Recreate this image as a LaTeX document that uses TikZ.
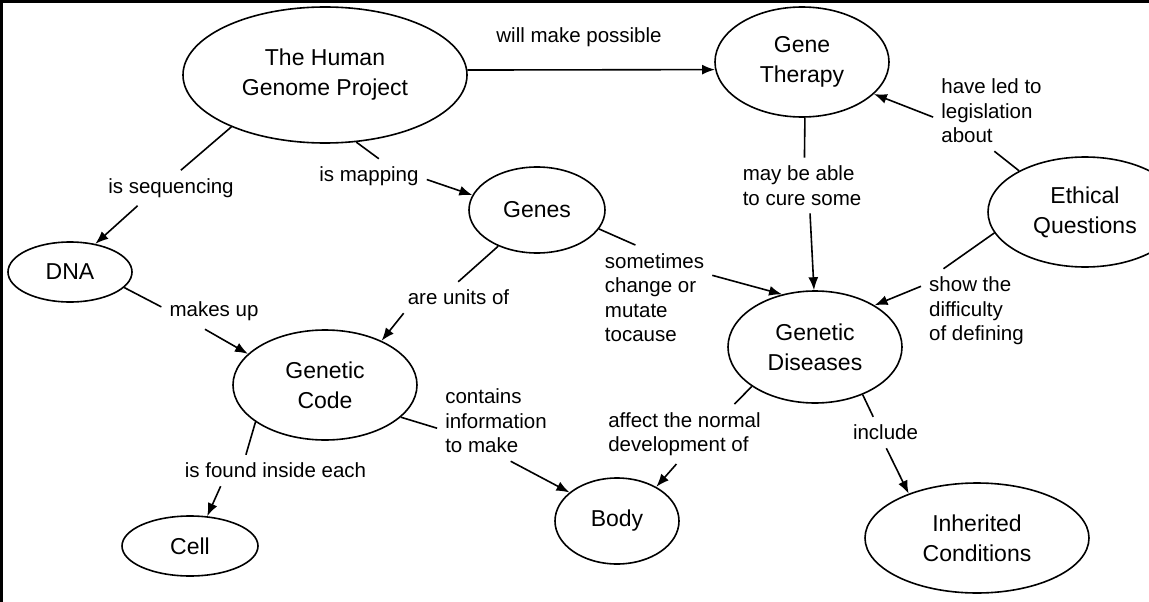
\documentclass[tikz,border=0pt]{standalone}
\usepackage{fontspec}
\setmainfont{Liberation Sans}
\usetikzlibrary{arrows.meta,shapes.geometric}

\begin{document}
\begin{tikzpicture}[x=1pt,y=-1pt,>={Latex[length=13pt,width=10pt]}]
	\tikzstyle{concept}=[draw, ellipse, line width=1.6pt, inner sep=0pt, align=center, font=\fontsize{23}{30}\selectfont]
	\tikzstyle{phrase}=[inner sep=8pt, align=left, font=\fontsize{20.5}{24.5}\selectfont]
	\tikzstyle{link}=[line width=1.6pt]

	\useasboundingbox (0,0) rectangle (1149,602);
	\draw [line width=3pt] (1.5,602) -- (1.5,1.5) -- (1149,1.5);

	% concepts
	\node (HGP) [concept, minimum width=284pt, minimum height=136pt] at (325,75) {The Human\\Genome Project};
	\node (GT) [concept, minimum width=174pt, minimum height=110pt] at (802,62) {Gene\\Therapy};
	\node (EQ) [concept, minimum width=194pt, minimum height=110pt] at (1085,212) {Ethical\\Questions};
	\node (DNA) [concept, minimum width=124pt, minimum height=60pt] at (70,272) {DNA};
	\node (Genes) [concept, minimum width=136pt, minimum height=86pt] at (537,210) {Genes};
	\node (GC) [concept, minimum width=184pt, minimum height=110pt] at (325,385) {Genetic\\Code};
	\node (GD) [concept, minimum width=174pt, minimum height=112pt] at (815,347) {Genetic\\Diseases};
	\node (Cell) [concept, minimum width=136pt, minimum height=60pt] at (190,546) {Cell};
	\node (Body) [concept, minimum width=124pt, minimum height=86pt] at (617,521) {Body};
	\node (IC) [concept, minimum width=224pt, minimum height=110pt] at (977,538) {Inherited\\Conditions};

	% linking phrases
	\node (possible) [phrase] at (579,37.5) {will make possible};
	\node (sequencing) [phrase] at (171,188) {is sequencing};
	\node (mapping) [phrase] at (369,176.5) {is mapping};
	\node (cure) [phrase] at (802,185.5) {may be able\\to cure some};
	\node (legislation) [phrase] at (991.5,111) {have led to\\legislation\\about};
	\node (difficulty) [phrase] at (976.5,311) {show the\\difficulty\\of defining};
	\node (mutate) [phrase] at (654.5,297.5) {sometimes\\change or\\mutate\\tocause};
	\node (unitsof) [phrase] at (458.5,297.5) {are units of};
	\node (makesup) [phrase] at (214,311.5) {makes up};
	\node (foundin) [phrase] at (275.5,470.5) {is found inside each};
	\node (contains) [phrase] at (496,421) {contains\\information\\to make};
	\node (affect) [phrase] at (684.5,434) {affect the normal\\development of};
	\node (include) [phrase] at (885.5,432.5) {include};

	% links
	\draw [link,->] (HGP.2) -- (GT.185);
	\draw [link] (HGP.209) -- (sequencing.61);
	\draw [link,->] (sequencing.208) -- (DNA.48);
	\draw [link] (HGP.295) -- (mapping.61);
	\draw [link,->] (mapping.357) -- (Genes.167);
	\draw [link] (GT.273) -- (cure.85);
	\draw [link,->] (cure.286) -- (GD.91);
	\draw [link] (EQ.148) -- (legislation.274);
	\draw [link,->] (legislation.186) -- (GT.336);
	\draw [link] (EQ.193) -- (difficulty.128);
	\draw [link,->] (difficulty.156) -- (GD.35);
	\draw [link] (Genes.223) -- (unitsof.91);
	\draw [link,->] (unitsof.196) -- (GC.38);
	\draw [link] (Genes.343) -- (mutate.110);
	\draw [link,->] (mutate.21) -- (GD.122);
	\draw [link] (DNA.344) -- (makesup.175);
	\draw [link,->] (makesup.243) -- (GC.158);
	\draw [link] (GC.208) -- (foundin.152);
	\draw [link,->] (foundin.196) -- (Cell.60);
	\draw [link] (GC.337) -- (contains.187);
	\draw [link,->] (contains.290) -- (Body.149);
	\draw [link] (GD.212) -- (affect.31);
	\draw [link,->] (affect.255) -- (Body.41);
	\draw [link] (GD.315) -- (include.128);
	\draw [link,->] (include.273) -- (IC.147);
\end{tikzpicture}
\end{document}
